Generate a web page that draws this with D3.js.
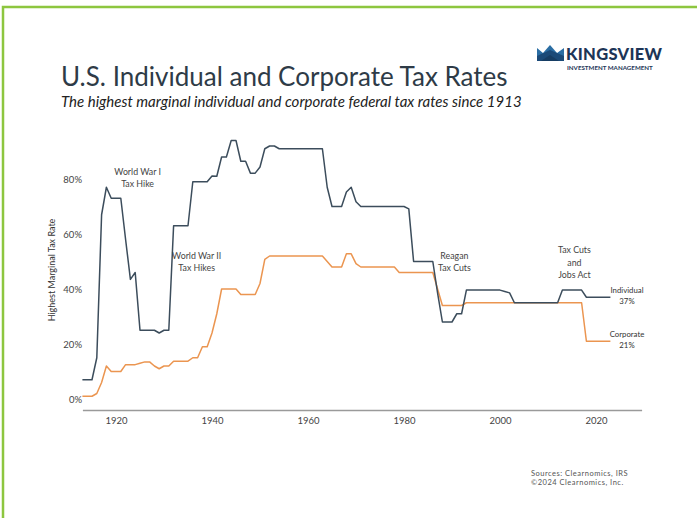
<!DOCTYPE html>
<html lang="en">
<head>
<meta charset="UTF-8">
<script src="https://cdn.jsdelivr.net/npm/d3@7"></script>
<title>U.S. Individual and Corporate Tax Rates</title>
<style>
  body { margin: 0; background: #fff; font-family: Lato, "Open Sans", sans-serif; }
  svg { display: block; }
</style>
</head>
<body>
<script>
// data, one value per year starting 1913
const startYear = 1913;
const individual = [
  7, 7, 7, 15, 67, 77, 73, 73, 73, 58, 43.5, 46, 25, 25, 25, 25, 24, 25, 25,
  63, 63, 63, 63, 79, 79, 79, 79, 81.1, 81, 88, 88, 94, 94, 86.45, 86.45, 82.13, 82.13, 84.36, 91, 92, 92,
  91, 91, 91, 91, 91, 91, 91, 91, 91, 91,
  77, 70, 70, 70, 75.25, 77, 71.75,
  70, 70, 70, 70, 70, 70, 70, 70, 70, 70,
  69.13, 50, 50, 50, 50, 50,
  38.5, 28, 28, 28, 31, 31,
  39.6, 39.6, 39.6, 39.6, 39.6, 39.6, 39.6, 39.6, 39.1, 38.6,
  35, 35, 35, 35, 35, 35, 35, 35, 35, 35,
  39.6, 39.6, 39.6, 39.6, 39.6,
  37, 37, 37, 37, 37, 37
];
const corporate = [
  1, 1, 1, 2, 6, 12, 10, 10, 10, 12.5, 12.5, 12.5, 13, 13.5, 13.5, 12, 11, 12, 12,
  13.75, 13.75, 13.75, 13.75, 15, 15, 19, 19, 24, 31, 40, 40, 40, 40, 38, 38, 38, 38, 42, 50.75,
  52, 52, 52, 52, 52, 52, 52, 52, 52, 52, 52, 52,
  50, 48, 48, 48, 52.8, 52.8, 49.2,
  48, 48, 48, 48, 48, 48, 48, 48,
  46, 46, 46, 46, 46, 46, 46, 46,
  40, 34, 34, 34, 34, 34,
  35, 35, 35, 35, 35, 35, 35, 35, 35, 35, 35, 35, 35, 35, 35, 35, 35, 35, 35, 35, 35, 35, 35, 35, 35,
  21, 21, 21, 21, 21, 21
];
const xTicks = [1920, 1940, 1960, 1980, 2000, 2020];
const yTicks = [0, 20, 40, 60, 80];
const notes = [
  { year: 1924.5, pct: 81.5, lines: ["World War I", "Tax Hike"] },
  { year: 1936.8, pct: 51, lines: ["World War II", "Tax Hikes"] },
  { year: 1990.5, pct: 51, lines: ["Reagan", "Tax Cuts"] },
  { year: 2015.5, pct: 53, lines: ["Tax Cuts", "and", "Jobs Act"] }
];
const endLabels = [
  { name: "Individual", value: "37%", pct: 37 },
  { name: "Corporate", value: "21%", pct: 21 }
];

const W = 697, H = 518;
const svg = d3.select("body").append("svg").attr("width", W).attr("height", H);

// green frame (top and left edges)
svg.append("rect").attr("x", 3).attr("y", 7).attr("width", W).attr("height", H)
  .attr("fill", "none").attr("stroke", "#8dc63f").attr("stroke-width", 2.5);

// logo
const logo = svg.append("g").attr("transform", "translate(537,44)");
logo.append("path").attr("d", "M0,4 L6,9 L13,1 L20,9 L27,4 L27,17 L0,17 Z").attr("fill", "#2a6da3");
logo.append("path").attr("d", "M0,12 L13,6 L27,12 L27,17 L0,17 Z").attr("fill", "#1b4a78");
logo.append("path").attr("d", "M4,17 L13,11 L22,17 Z").attr("fill", "#163d63");
svg.append("text").attr("x", 566).attr("y", 60).text("KINGSVIEW")
  .attr("font-size", 16.5).attr("font-weight", 900).attr("fill", "#1d3557").attr("letter-spacing", 0.3);
svg.append("text").attr("x", 567).attr("y", 69.5).text("INVESTMENT MANAGEMENT")
  .attr("font-size", 6.2).attr("font-weight", 700).attr("fill", "#1d3557");

// titles
svg.append("text").attr("x", 61).attr("y", 86).text("U.S. Individual and Corporate Tax Rates")
  .attr("font-size", 26).attr("fill", "#2e3b47");
svg.append("text").attr("x", 61).attr("y", 107).text("The highest marginal individual and corporate federal tax rates since 1913")
  .attr("font-size", 15).attr("font-style", "italic").attr("fill", "#222");

const x = d3.scaleLinear().domain([1913, 2029.5]).range([82.4, 641.6]);
const y = d3.scaleLinear().domain([0, 100]).range([399, 124]);

// x axis
const xAxis = svg.append("g").attr("transform", "translate(0,410)")
  .call(d3.axisBottom(x).tickValues(xTicks).tickFormat(d3.format("d")).tickSize(0).tickPadding(7));
xAxis.select(".domain").attr("stroke", "#9a9a9a").attr("stroke-width", 1.3);
xAxis.selectAll("text").attr("font-family", "Lato, sans-serif").attr("font-size", 9.5).attr("fill", "#444");

// y axis
const yAxis = svg.append("g").attr("transform", "translate(82,0)")
  .call(d3.axisLeft(y).tickValues(yTicks).tickFormat(d => d + "%").tickSize(0).tickPadding(0));
yAxis.select(".domain").remove();
yAxis.selectAll("text").attr("font-family", "Lato, sans-serif").attr("font-size", 9.5).attr("fill", "#444");

svg.append("text").attr("transform", "translate(55,270) rotate(-90)").attr("text-anchor", "middle")
  .text("Highest Marginal Tax Rate").attr("font-size", 9).attr("fill", "#333");

// lines
const line = d3.line().x((d, i) => x(startYear + i)).y(d => y(d));
svg.append("path").datum(corporate).attr("d", line)
  .attr("fill", "none").attr("stroke", "#eb9550").attr("stroke-width", 1.5).attr("stroke-linejoin", "round");
svg.append("path").datum(individual).attr("d", line)
  .attr("fill", "none").attr("stroke", "#3c4d5c").attr("stroke-width", 1.5).attr("stroke-linejoin", "round");

// annotations
notes.forEach(n => {
  const t = svg.append("text").attr("text-anchor", "middle").attr("font-size", 8.8).attr("fill", "#444");
  n.lines.forEach((s, i) => {
    t.append("tspan").attr("x", x(n.year)).attr("y", y(n.pct) + i * 12.5).text(s);
  });
});

endLabels.forEach(l => {
  const yy = y(l.pct);
  svg.append("text").attr("x", 627).attr("y", yy - 4).attr("text-anchor", "middle")
    .attr("font-size", 7.8).attr("fill", "#333").text(l.name);
  svg.append("text").attr("x", 627).attr("y", yy + 6.5).attr("text-anchor", "middle")
    .attr("font-size", 7.8).attr("fill", "#333").text(l.value);
});

// sources
svg.append("text").attr("x", 531).attr("y", 476).text("Sources: Clearnomics, IRS")
  .attr("font-size", 7.5).attr("fill", "#555").attr("letter-spacing", 0.5);
svg.append("text").attr("x", 531).attr("y", 485).text("\u00a92024 Clearnomics, Inc.")
  .attr("font-size", 7.5).attr("fill", "#555").attr("letter-spacing", 0.5);
</script>
</body>
</html>
